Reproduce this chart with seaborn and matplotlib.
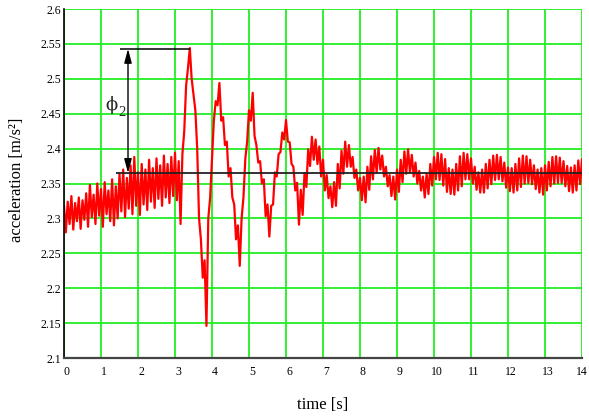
import numpy as np
import pandas as pd
import matplotlib
matplotlib.use("Agg")
import matplotlib.pyplot as plt
import matplotlib.transforms as mtransforms
from matplotlib.ticker import FuncFormatter
import seaborn as sns

# Acceleration record, one sample every 0.1 s at the crest of the fast vibration
# (upper) and one half a step later at its trough (lower)
upper = [
    2.318, 2.324, 2.332, 2.322, 2.330, 2.326, 2.336, 2.348, 2.334, 2.350,
    2.342, 2.352, 2.340, 2.356, 2.346, 2.364, 2.370, 2.358, 2.376, 2.388,
    2.366, 2.378, 2.370, 2.384, 2.372, 2.386, 2.376, 2.390, 2.378, 2.388,
    2.394, 2.382,
    2.392, 2.490, 2.544, 2.478, 2.400, 2.270, 2.240, 2.300, 2.385, 2.468,
    2.494, 2.445, 2.410, 2.372, 2.320, 2.290, 2.300, 2.385, 2.455, 2.480,
    2.405, 2.382, 2.356, 2.320, 2.318, 2.366, 2.392, 2.423, 2.441, 2.409,
    2.374, 2.351, 2.341, 2.365, 2.399, 2.417, 2.413, 2.403, 2.384, 2.362,
    2.346, 2.352, 2.378, 2.397, 2.410, 2.405, 2.388, 2.370, 2.358, 2.360,
    2.374, 2.389, 2.398, 2.401, 2.390, 2.374, 2.362, 2.360, 2.370, 2.384,
    2.396, 2.399, 2.391, 2.380, 2.368, 2.360, 2.364, 2.378, 2.388, 2.394,
    2.392, 2.385, 2.372, 2.370, 2.378, 2.389, 2.394, 2.392, 2.386, 2.374,
    2.366, 2.370, 2.378, 2.384, 2.390, 2.391, 2.388, 2.380, 2.373, 2.372,
    2.378, 2.386, 2.390, 2.389, 2.384, 2.376, 2.370, 2.372, 2.376, 2.381,
    2.388, 2.389, 2.387, 2.382, 2.375, 2.373, 2.376, 2.383, 2.385,
]
lower = [
    2.280, 2.292, 2.284, 2.296, 2.285, 2.298, 2.288, 2.302, 2.292, 2.304,
    2.288, 2.306, 2.296, 2.290, 2.300, 2.310, 2.302, 2.314, 2.306, 2.318,
    2.305, 2.320, 2.312, 2.324, 2.315, 2.328, 2.318, 2.330, 2.322, 2.332,
    2.326, 2.292,
    2.425, 2.515, 2.500, 2.455, 2.300, 2.215, 2.146, 2.330, 2.440, 2.462,
    2.440, 2.405, 2.360, 2.330, 2.270, 2.232, 2.330, 2.410, 2.440, 2.418,
    2.380, 2.350, 2.303, 2.274, 2.320, 2.360, 2.395, 2.413, 2.410, 2.378,
    2.340, 2.291, 2.305, 2.345, 2.375, 2.384, 2.378, 2.360, 2.340, 2.329,
    2.316, 2.318, 2.343, 2.364, 2.374, 2.374, 2.358, 2.340, 2.326, 2.323,
    2.341, 2.356, 2.366, 2.370, 2.360, 2.346, 2.332, 2.327, 2.338, 2.352,
    2.364, 2.366, 2.360, 2.350, 2.340, 2.330, 2.335, 2.347, 2.356, 2.355,
    2.347, 2.338, 2.335, 2.334, 2.340, 2.346, 2.356, 2.356, 2.350, 2.341,
    2.337, 2.337, 2.343, 2.349, 2.355, 2.356, 2.353, 2.344, 2.339, 2.337,
    2.340, 2.345, 2.350, 2.351, 2.349, 2.342, 2.337, 2.334, 2.340, 2.346,
    2.350, 2.351, 2.351, 2.346, 2.339, 2.337, 2.340, 2.349, 2.352,
]
time_step = 0.1

level = 2.365        # settled acceleration
peak = 2.543         # first overshoot
phi_label = "ϕ"
phi_index = "2"

x_ticks = list(range(0, 15))
y_ticks = [2.1, 2.15, 2.2, 2.25, 2.3, 2.35, 2.4, 2.45, 2.5, 2.55, 2.6]

# interleave crest and trough samples into one trace
n = len(upper)
t_up = np.arange(n) * time_step
time = np.empty(2 * n)
accel = np.empty(2 * n)
time[0::2] = t_up
time[1::2] = t_up + time_step / 2
accel[0::2] = upper
accel[1::2] = lower
df = pd.DataFrame({"time": time, "accel": accel})

sns.set_theme(style="white")
plt.rcParams["font.family"] = ["Liberation Serif", "DejaVu Serif"]

fig = plt.figure(figsize=(5.89, 4.19), dpi=100)
ax = fig.add_axes([64 / 589, 61 / 419, 518 / 589, 349 / 419])

sns.lineplot(data=df, x="time", y="accel", color="#ff0000", linewidth=1.6,
             sort=False, estimator=None, ax=ax, zorder=2)

ax.set_xlim(0, 14)
ax.set_ylim(2.1, 2.6)
ax.set_xticks(x_ticks)
ax.set_yticks(y_ticks)
ax.yaxis.set_major_formatter(FuncFormatter(lambda v, _: f"{v:g}"))
ax.grid(True, color="#22ee22", linewidth=1.3)
ax.set_axisbelow(True)

# settled level and overshoot marker
ax.hlines(level, 1.41, 14, colors="#222222", linewidth=1.3, zorder=3)
ax.hlines(peak, 1.51, 3.4, colors="black", linewidth=1.1, zorder=3)
ax.annotate("", xy=(1.73, level), xytext=(1.73, peak),
            arrowprops=dict(arrowstyle="<|-|>,head_length=0.6,head_width=0.16",
                            color="black", lw=1, mutation_scale=14,
                            shrinkA=0, shrinkB=0), zorder=4)
ax.text(1.13, 2.462, phi_label, fontsize=13, va="center", ha="left",
        family=["DejaVu Serif"])
ax.text(1.48, 2.452, phi_index, fontsize=10.5, va="center", ha="left")

for side in ("top", "right"):
    ax.spines[side].set_visible(False)
ax.spines["left"].set_color("black")
ax.spines["left"].set_linewidth(1.2)
ax.spines["bottom"].set_color("#444444")
ax.spines["bottom"].set_linewidth(1.6)

ax.tick_params(axis="x", direction="inout", length=6, width=1, color="black",
               pad=3, labelsize=8.5, labelcolor="black")
ax.tick_params(axis="y", direction="in", length=4, width=1, color="black",
               pad=2, labelsize=8.5, labelcolor="black")
shift = mtransforms.ScaledTranslation(3 / 100, 0, fig.dpi_scale_trans)
for lab in ax.get_xticklabels()[:-1]:
    lab.set_transform(lab.get_transform() + shift)

ax.set_xlabel("time [s]", fontsize=12, color="black")
ax.set_ylabel("acceleration [m/s²]", fontsize=12, color="black")
ax.xaxis.set_label_coords(0.5, -0.112)
ax.yaxis.set_label_coords(-0.075, 0.51)

fig.savefig("out.png", dpi=100)
